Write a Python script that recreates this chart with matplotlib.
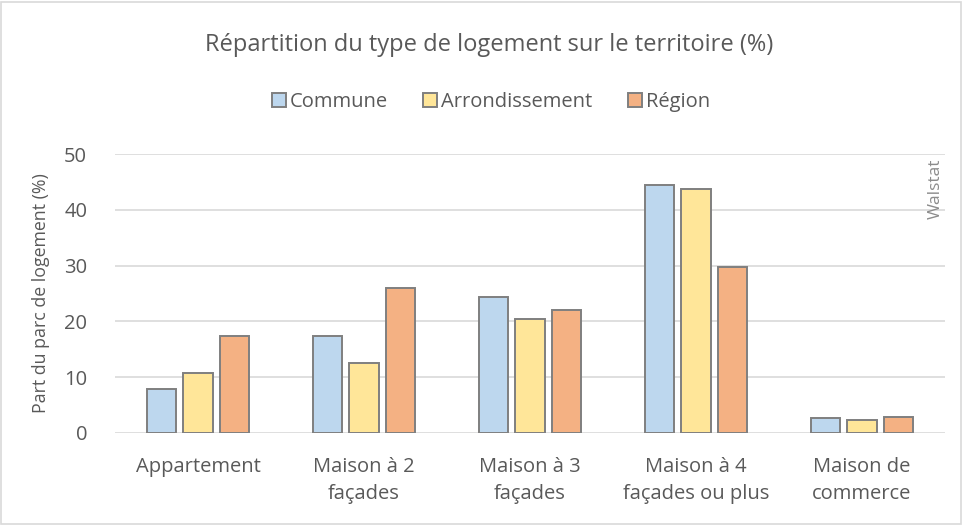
import matplotlib
matplotlib.use("Agg")
import matplotlib.pyplot as plt
import numpy as np
from matplotlib.patches import Rectangle

categories = ["Appartement", "Maison à 2\nfaçades", "Maison à 3\nfaçades",
              "Maison à 4\nfaçades ou plus", "Maison de\ncommerce"]
series_names = ["Commune", "Arrondissement", "Région"]
commune = [7.8, 17.4, 24.3, 44.5, 2.6]
arrondissement = [10.7, 12.6, 20.4, 43.7, 2.4]
region = [17.4, 26.0, 22.0, 29.7, 2.9]
colors = ["#bdd7ee", "#ffe699", "#f4b183"]
yticks = [0, 10, 20, 30, 40, 50]

plt.rcParams['font.family'] = ['Open Sans', 'DejaVu Sans']
txt = "#595959"

fig = plt.figure(figsize=(9.63, 5.25), dpi=100)
ax = fig.add_axes([115/963, 1-433/525, 830/963, (433-154)/525])

x = np.arange(len(categories))
w = 0.175
step = 0.22
for i, (vals, c, name) in enumerate(zip([commune, arrondissement, region], colors, series_names)):
    ax.bar(x + (i - 1) * step, vals, width=w, color=c, edgecolor="#7f7f7f",
           linewidth=1.4, label=name, zorder=3)

ax.set_xlim(-0.5, len(categories) - 0.5)
ax.set_ylim(0, 50)
ax.set_yticks(yticks)
ax.grid(axis="y", color="#d9d9d9", linewidth=1.2, zorder=0)
for s in ax.spines.values():
    s.set_visible(False)
ax.tick_params(axis="both", length=0, colors=txt, labelsize=14.5)
ax.tick_params(axis="y", pad=20)
ax.tick_params(axis="x", pad=17)
ax.set_xticks(x)
ax.set_xticklabels(categories, linespacing=1.5)
ax.set_ylabel("Part du parc de logement (%)", color=txt, fontsize=12.8, labelpad=10)

fig.text(489/963, 1-45/525, "Répartition du type de logement sur le territoire (%)",
         ha="center", va="center", fontsize=17, color=txt)
leg = fig.legend(loc="center", bbox_to_anchor=(491/963, 1-102/525), ncol=3, frameon=False,
                 fontsize=14.5, handlelength=0.7, handleheight=0.7, handletextpad=0.2,
                 columnspacing=1.75)
for t in leg.get_texts():
    t.set_color(txt)

fig.text(936/963, 1-189/525, "Walstat", rotation=90, ha="center", va="center",
         fontsize=12.5, color="#8c8c8c")

fig.patches.append(Rectangle((1/963, 1/525), 960/963, 522/525, transform=fig.transFigure,
                             fill=False, edgecolor="#d9d9d9", linewidth=1.2))

fig.savefig("out.png", dpi=100, facecolor="white")
